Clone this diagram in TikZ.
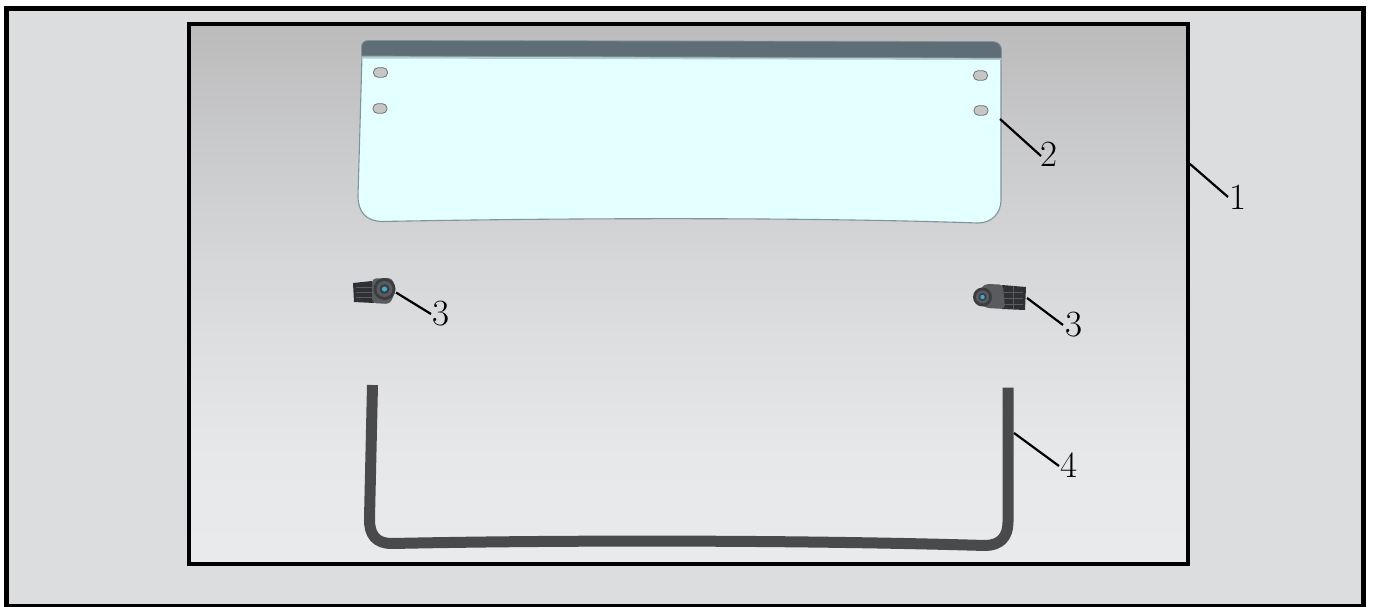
\documentclass[tikz,border=0pt]{standalone}
\definecolor{outerbg}{HTML}{DCDDDF}
\definecolor{glass}{HTML}{E3FFFF}
\definecolor{glassedge}{HTML}{7E959B}
\definecolor{band}{HTML}{5F6E76}
\definecolor{bandlight}{HTML}{B3CBD3}
\definecolor{rubber}{HTML}{4A4A4C}
\definecolor{holefill}{HTML}{C6C6C6}
\definecolor{camdark}{HTML}{3C3D40}
\definecolor{cammid}{HTML}{5A5B5F}
\definecolor{camfin}{HTML}{2F3033}
\definecolor{camblue}{HTML}{3FA9D6}
\pgfdeclareverticalshading{panelshade}{100bp}{
  rgb(0bp)=(0.914,0.918,0.925);
  rgb(25bp)=(0.914,0.918,0.925);
  rgb(35bp)=(0.906,0.910,0.918);
  rgb(49bp)=(0.855,0.859,0.867);
  rgb(63bp)=(0.795,0.797,0.802);
  rgb(75bp)=(0.733,0.733,0.737);
  rgb(100bp)=(0.733,0.733,0.737)}
\tikzset{
  framebox/.style={draw=black,line width=5pt},
  panelbox/.style={draw=black,line width=4pt,shading=panelshade},
  leader/.style={draw=black,line width=2.2pt},
  numlabel/.style={inner sep=0pt,font=\fontsize{37}{37}\selectfont},
  hole/.style={draw=black!55,line width=.8pt,fill=holefill,rounded corners=4.4pt,
    minimum width=14pt,minimum height=9.5pt,inner sep=0pt},
  rubberstrip/.style={draw=rubber,line width=11pt,line join=round},
  fin/.style={draw=cammid,line width=.8pt}
}
\begin{document}
\begin{tikzpicture}[x=1pt,y=-1pt]
\useasboundingbox (0,0) rectangle (1373,607);
\fill[white] (0,0) rectangle (1373,607);
\path[framebox,fill=outerbg] (6.5,8.5) rectangle (1363.5,606);
\path[panelbox] (189,24) rectangle (1188,564);

% windscreen
\path[fill=glass,draw=glassedge,line width=1.1pt]
  (362,56) -- (358,196) .. controls (358,212) and (366,221) .. (382,221.5)
  .. controls (560,218) and (800,217) .. (978,223)
  .. controls (992,223) and (1001,213) .. (1001,200) -- (1001,58) -- cycle;
\path[fill=bandlight] (362,55) -- (1001.5,57) -- (1001.5,60) -- (362,58.5) -- cycle;
\path[fill=band,draw=glassedge,line width=.7pt]
  (361.5,56) -- (361.5,47) .. controls (361.5,43) and (364,40.5) .. (368,40.5)
  -- (992,41.5) .. controls (998,41.5) and (1001.5,45) .. (1001.5,50) -- (1001.5,58) -- cycle;
\node[hole] (h1) at (380.5,72.5) {};
\node[hole] (h2) at (380,108.5) {};
\node[hole] (h3) at (980.5,75.5) {};
\node[hole] (h4) at (981,110.5) {};

% left bracket
\path[fill=camfin] (353,283) -- (372,281) -- (374,303) -- (354,302) -- cycle;
\foreach \yy in {287,292,297} \draw[fin] (356,\yy) -- (372,\yy);
\path[fill=cammid,rounded corners=4pt] (372,278.5) -- (392,278) -- (396,290) -- (390,304) -- (372,303) -- cycle;
\path[fill=camdark] (384.5,289) circle (11);
\path[fill=cammid] (384.5,289) circle (8);
\path[fill=camdark] (384.5,289) circle (5);
\path[fill=camblue] (384.5,289) circle (2.6);

% right bracket
\path[fill=camfin] (1002,285) -- (1026,287) -- (1025,310) -- (1002,309) -- cycle;
\foreach \yy in {292,298,304} \draw[fin] (1004,\yy) -- (1023,\yy);
\draw[fin] (1013,286) -- (1013,309);
\path[fill=cammid,rounded corners=4pt] (984,284) -- (1003,284.5) -- (1005,309) -- (986,308) -- (974,300) -- cycle;
\path[fill=camdark] (982.5,297) circle (9.5);
\path[fill=cammid] (982.5,297) circle (6.5);
\path[fill=camdark] (982.5,297) circle (4);
\path[fill=camblue] (982.5,297) circle (2.2);

% seal strip
\draw[rubberstrip] (372.5,385) -- (369.5,518)
  .. controls (369,535) and (376,543.5) .. (392,543.5)
  .. controls (560,540) and (800,540) .. (985,545.5)
  .. controls (1000,545.5) and (1008,537) .. (1008,522) -- (1008,387.5);

% labels
\node[numlabel] (n1) at (1237.5,197) {1};
\node[numlabel] (n2) at (1049,154) {2};
\node[numlabel] (n3a) at (440.5,314) {3};
\node[numlabel] (n3b) at (1073.5,325) {3};
\node[numlabel] (n4) at (1068.5,465) {4};

\coordinate (p1) at (1190,164);
\coordinate (p2) at (1000,119);
\coordinate (p3a) at (396,292.5);
\coordinate (p3b) at (1027,298);
\coordinate (p4) at (1014,433);
\coordinate (e1) at (1228,197);
\coordinate (e2) at (1041,156);
\coordinate (e3a) at (431,314);
\coordinate (e3b) at (1063,325);
\coordinate (e4) at (1059,466);
\path[leader] (p1) -- (e1);
\path[leader] (p2) -- (e2);
\path[leader] (p3a) -- (e3a);
\path[leader] (p3b) -- (e3b);
\path[leader] (p4) -- (e4);
\end{tikzpicture}
\end{document}
